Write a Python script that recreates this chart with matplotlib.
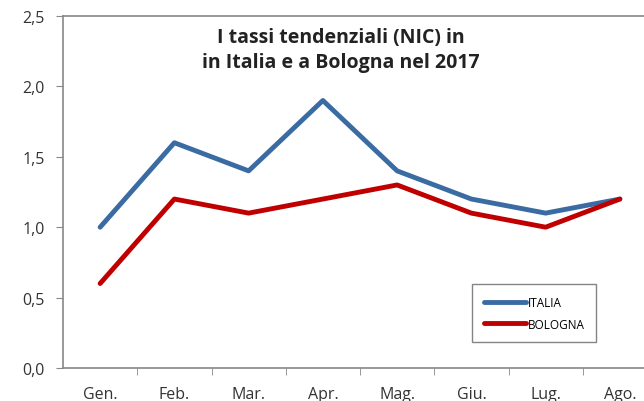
import matplotlib.pyplot as plt
import numpy as np

mesi = ['Gen.', 'Feb.', 'Mar.', 'Apr.', 'Mag.', 'Giu.', 'Lug.', 'Ago.']
italia = [1.0, 1.6, 1.4, 1.9, 1.4, 1.2, 1.1, 1.2]
bologna = [0.6, 1.2, 1.1, 1.2, 1.3, 1.1, 1.0, 1.2]
yticks = [0.0, 0.5, 1.0, 1.5, 2.0, 2.5]

plt.rcParams['font.family'] = ['Open Sans', 'DejaVu Sans']

fig = plt.figure(figsize=(6.44, 4.02), dpi=100)
W, H = 644, 402
# axes runs past the right edge of the picture, as in the cropped original
ax = fig.add_axes([63 / W, 1 - 369 / H, (657 - 63) / W, (369 - 17) / H])

x = np.arange(len(mesi))
ax.plot(x, italia, color='#3A6CA3', lw=3.5, solid_capstyle='round', label='ITALIA')
ax.plot(x, bologna, color='#C00000', lw=3.5, solid_capstyle='round', label='BOLOGNA')

ax.set_xlim(-0.5, len(mesi) - 0.5)
ax.set_ylim(0, 2.5)
ax.set_yticks(yticks)
ax.set_yticklabels([f'{v:.1f}'.replace('.', ',') for v in yticks], fontsize=11.5, color='#333333')
ax.set_xticks(x)
ax.set_xticklabels(mesi, fontsize=11.5, color='#333333')
ax.set_xticks(np.arange(0.5, len(mesi) - 0.5), minor=True)
ax.tick_params(axis='x', which='major', length=0, pad=13)
ax.tick_params(axis='x', which='minor', length=5, color='#888888')
ax.tick_params(axis='y', length=5, color='#888888', pad=8)

for s in ['left', 'bottom', 'top']:
    ax.spines[s].set_color('#888888')
    ax.spines[s].set_linewidth(1.2)
ax.spines['right'].set_visible(False)

fig.text(341 / W, 1 - 38 / H, 'I tassi tendenziali (NIC) in', ha='center', va='center',
         fontsize=14, fontweight='bold', color='#222222')
fig.text(341 / W, 1 - 63 / H, 'in Italia e a Bologna nel 2017', ha='center', va='center',
         fontsize=14, fontweight='bold', color='#222222')

leg = ax.legend(loc='upper left', bbox_to_anchor=((466 - 63) / (657 - 63), (369 - 279) / (369 - 17)),
                fontsize=8.5, frameon=True, fancybox=False, handlelength=3.6, handletextpad=0.1,
                borderpad=1.0, labelspacing=0.75, edgecolor='#666666')
leg.get_frame().set_linewidth(1.0)

plt.savefig('out.png', dpi=100)
